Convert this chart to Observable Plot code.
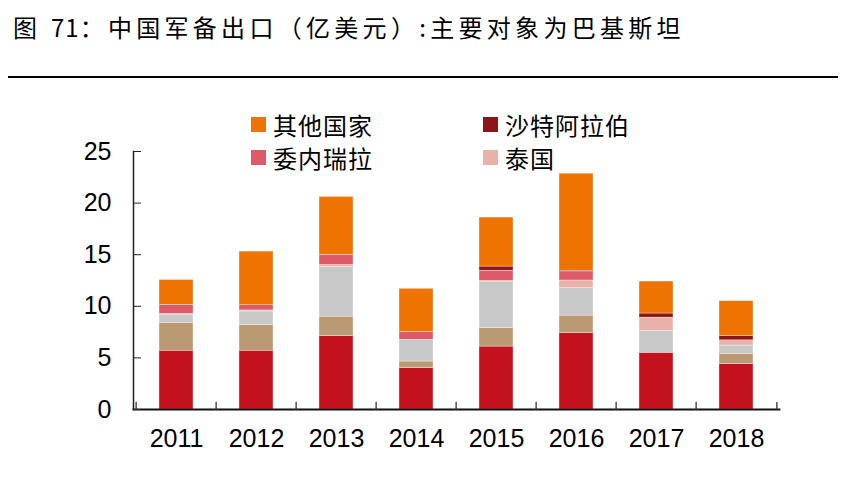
<!DOCTYPE html>
<html><head><meta charset="utf-8">
<script src="https://cdn.jsdelivr.net/npm/d3@7"></script>
<script src="https://cdn.jsdelivr.net/npm/@observablehq/plot@0.6"></script>
<style>
body{margin:0;background:#fff;width:853px;height:497px;position:relative;overflow:hidden;font-family:"Noto Sans CJK SC",sans-serif;color:#000}
#title{position:absolute;left:13px;top:11px;font-size:24px;line-height:32px;letter-spacing:4.3px;white-space:nowrap}
#title .num{letter-spacing:1px}
#rule{position:absolute;left:8px;top:76px;width:830px;height:2px;background:#000}
#chart{position:absolute;left:0;top:90px}
#legend{position:absolute;left:251px;top:108px;display:grid;grid-template-columns:232px 200px;grid-auto-rows:33px;z-index:2}
#legend .item{display:flex;align-items:center;font-size:24px;letter-spacing:1px;white-space:nowrap}
#legend .sw{width:15px;height:15px;margin-right:7px;flex:none}
</style></head>
<body>
<div id="title">图 <span class="num">71</span>：中国军备出口（亿美元）:主要对象为巴基斯坦</div>
<div id="rule"></div>
<div id="legend"></div>
<div id="chart"></div>
<script>
const years = ["2011","2012","2013","2014","2015","2016","2017","2018"];
const seriesNames = ["巴基斯坦","孟加拉","缅甸","泰国","委内瑞拉","沙特阿拉伯","其他国家"];
const seriesColors = ["#C4111E","#BA9973","#C8C8C8","#E8B2A9","#DD5A69","#8C1518","#EF7300"];
const pakistan   = [5.7, 5.7, 7.1, 4.0, 6.1, 7.4, 5.5, 4.4];
const bangladesh = [2.7, 2.5, 1.9, 0.65, 1.8, 1.7, 0, 1.0];
const myanmar    = [0.8, 1.3, 4.8, 2.1, 4.5, 2.65, 2.1, 0.8];
const thailand   = [0.05, 0.1, 0.2, 0, 0.05, 0.75, 1.3, 0.5];
const venezuela  = [0.9, 0.5, 1.0, 0.75, 1.0, 0.8, 0, 0];
const saudi      = [0, 0, 0, 0, 0.4, 0.15, 0.4, 0.4];
const others     = [2.4, 5.2, 5.6, 4.2, 4.75, 9.4, 3.1, 3.4];
const yTicks = [0, 5, 10, 15, 20, 25];
const legendNames = ["其他国家","沙特阿拉伯","委内瑞拉","泰国"];

const seriesValues = [pakistan, bangladesh, myanmar, thailand, venezuela, saudi, others];
const data = [];
seriesNames.forEach((s, i) => years.forEach((y, j) => data.push({year: y, series: s, value: seriesValues[i][j]})));

const W = 853, H = 407, mL = 133, mR = 74, mT = 61, mB = 88;
const step = (W - mL - mR) / years.length;
const tickShape = {draw(ctx, l) { ctx.moveTo(0, 0); ctx.lineTo(0, -l); }};

const chart = Plot.plot({
  width: W, height: H,
  marginLeft: mL, marginRight: mR, marginTop: mT, marginBottom: mB,
  style: {fontFamily: "'Liberation Sans', Arial, sans-serif", fontSize: "25px", color: "#000", background: "transparent"},
  x: {domain: years, paddingInner: 0.58, paddingOuter: 0.29, label: null},
  y: {domain: [0, 25], label: null},
  color: {domain: seriesNames, range: seriesColors},
  marks: [
    Plot.barY(data, {x: "year", y: "value", fill: "series", stroke: "white", strokeWidth: 0.5, strokeOpacity: 0.7}),
    Plot.frame({anchor: "left", stroke: "#222", strokeWidth: 1.5}),
    Plot.frame({anchor: "bottom", stroke: "#111", strokeWidth: 1.8}),
    Plot.axisY({ticks: yTicks, tickSize: -8, tickPadding: 30, fontSize: 25, stroke: "#222", label: null}),
    Plot.axisX({tickSize: 0, tickPadding: 20, fontSize: 25, label: null}),
    Plot.vector(years, {x: d => d, y: 0, dx: -step / 2, length: 7, anchor: "start", shape: tickShape, stroke: "#333", strokeWidth: 1.3}),
    Plot.vector(years.slice(-1), {x: d => d, y: 0, dx: step / 2, length: 7, anchor: "start", shape: tickShape, stroke: "#333", strokeWidth: 1.3})
  ]
});
document.getElementById("chart").appendChild(chart);

const legend = document.getElementById("legend");
legendNames.forEach(n => {
  const it = document.createElement("div"); it.className = "item";
  const sw = document.createElement("span"); sw.className = "sw";
  sw.style.background = seriesColors[seriesNames.indexOf(n)];
  const tx = document.createElement("span"); tx.textContent = n;
  it.appendChild(sw); it.appendChild(tx); legend.appendChild(it);
});
</script>
</body></html>
